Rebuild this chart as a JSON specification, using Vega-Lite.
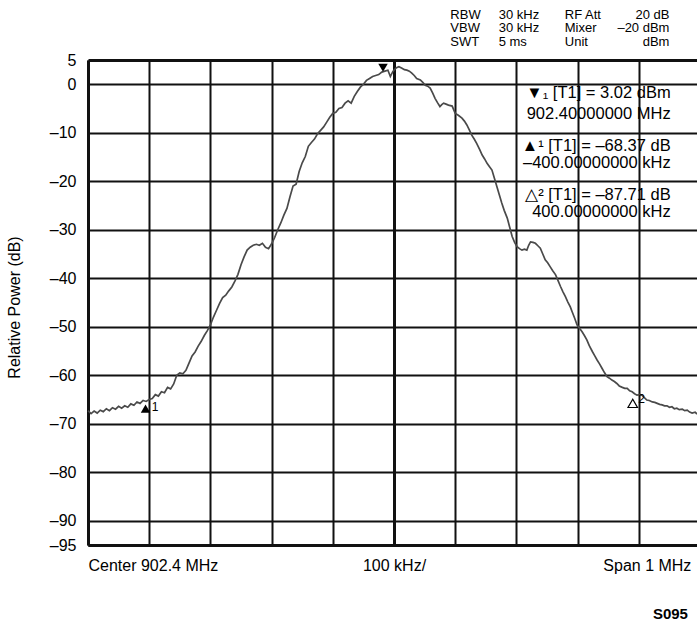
{
  "$schema": "https://vega.github.io/schema/vega-lite/v6.json",
  "width": 609,
  "height": 485,
  "autosize": {"type": "none"},
  "padding": {"left": 88, "top": 60, "right": 0, "bottom": 79},
  "background": "white",
  "config": {
    "view": {"stroke": null},
    "font": "Liberation Sans",
    "text": {"font": "Liberation Sans", "color": "#000"}
  },
  "datasets": {
    "trace": [
      {"f": -500, "db": -67.3}, {"f": -495, "db": -67.9}, {"f": -490, "db": -67.4}, {"f": -485, "db": -67.8},
      {"f": -480, "db": -67.2}, {"f": -475, "db": -67.5}, {"f": -470, "db": -66.9}, {"f": -465, "db": -67.3},
      {"f": -460, "db": -66.7}, {"f": -455, "db": -67.0}, {"f": -450, "db": -66.4}, {"f": -445, "db": -66.8},
      {"f": -440, "db": -66.3}, {"f": -435, "db": -66.6}, {"f": -430, "db": -65.9}, {"f": -425, "db": -66.2},
      {"f": -420, "db": -65.5}, {"f": -415, "db": -65.8}, {"f": -410, "db": -65.2}, {"f": -405, "db": -65.4},
      {"f": -400, "db": -65.0}, {"f": -395, "db": -64.8}, {"f": -390, "db": -64.0}, {"f": -385, "db": -64.3},
      {"f": -380, "db": -63.4}, {"f": -375, "db": -63.6}, {"f": -370, "db": -62.5}, {"f": -365, "db": -62.8},
      {"f": -360, "db": -61.8}, {"f": -355, "db": -60.0}, {"f": -350, "db": -59.5}, {"f": -345, "db": -59.7},
      {"f": -340, "db": -59.0}, {"f": -335, "db": -57.5}, {"f": -330, "db": -56.0}, {"f": -325, "db": -55.2},
      {"f": -320, "db": -54.0}, {"f": -315, "db": -53.0}, {"f": -310, "db": -51.8}, {"f": -305, "db": -50.8},
      {"f": -300, "db": -49.6}, {"f": -295, "db": -48.0}, {"f": -290, "db": -46.6}, {"f": -285, "db": -45.2},
      {"f": -280, "db": -44.0}, {"f": -275, "db": -43.5}, {"f": -270, "db": -42.6}, {"f": -265, "db": -41.8},
      {"f": -260, "db": -40.6}, {"f": -255, "db": -39.2}, {"f": -250, "db": -37.2}, {"f": -245, "db": -35.6},
      {"f": -240, "db": -34.2}, {"f": -235, "db": -33.6}, {"f": -230, "db": -33.2}, {"f": -225, "db": -33.0},
      {"f": -220, "db": -33.2}, {"f": -215, "db": -32.8}, {"f": -210, "db": -33.6}, {"f": -205, "db": -33.9},
      {"f": -200, "db": -32.9}, {"f": -195, "db": -31.6}, {"f": -190, "db": -30.0}, {"f": -185, "db": -28.6},
      {"f": -180, "db": -27.0}, {"f": -175, "db": -25.6}, {"f": -170, "db": -23.2}, {"f": -165, "db": -21.0},
      {"f": -160, "db": -20.6}, {"f": -155, "db": -18.0}, {"f": -150, "db": -16.2}, {"f": -145, "db": -14.9},
      {"f": -140, "db": -12.8}, {"f": -135, "db": -12.0}, {"f": -130, "db": -11.3}, {"f": -125, "db": -10.2},
      {"f": -120, "db": -9.5}, {"f": -115, "db": -8.8}, {"f": -110, "db": -7.8}, {"f": -105, "db": -6.8},
      {"f": -100, "db": -6.0}, {"f": -95, "db": -5.8}, {"f": -90, "db": -5.0}, {"f": -85, "db": -4.8},
      {"f": -80, "db": -3.9}, {"f": -75, "db": -3.4}, {"f": -70, "db": -3.9}, {"f": -65, "db": -2.5},
      {"f": -60, "db": -1.5}, {"f": -55, "db": -0.6}, {"f": -50, "db": 0.0}, {"f": -45, "db": 0.8},
      {"f": -40, "db": 1.2}, {"f": -35, "db": 1.6}, {"f": -30, "db": 1.8}, {"f": -25, "db": 2.0},
      {"f": -20, "db": 2.5}, {"f": -15, "db": 2.7}, {"f": -10, "db": 2.9}, {"f": -6, "db": 1.6},
      {"f": -2, "db": 2.6}, {"f": 0, "db": 2.9}, {"f": 4, "db": 3.4}, {"f": 8, "db": 3.6},
      {"f": 13, "db": 3.3}, {"f": 17, "db": 3.0}, {"f": 21, "db": 2.9}, {"f": 25, "db": 2.7},
      {"f": 29, "db": 2.3}, {"f": 33, "db": 1.8}, {"f": 37, "db": 1.2}, {"f": 43, "db": 0.9},
      {"f": 47, "db": 0.4}, {"f": 51, "db": -0.2}, {"f": 55, "db": -0.4}, {"f": 59, "db": -0.8},
      {"f": 63, "db": -1.8}, {"f": 67, "db": -2.9}, {"f": 71, "db": -3.8}, {"f": 75, "db": -4.6},
      {"f": 78, "db": -4.2}, {"f": 81, "db": -3.9}, {"f": 85, "db": -4.1}, {"f": 89, "db": -4.3},
      {"f": 95, "db": -4.5}, {"f": 100, "db": -6.0}, {"f": 105, "db": -6.4}, {"f": 111, "db": -7.0},
      {"f": 115, "db": -7.6}, {"f": 119, "db": -8.4}, {"f": 123, "db": -9.4}, {"f": 127, "db": -10.5},
      {"f": 131, "db": -11.3}, {"f": 135, "db": -12.2}, {"f": 140, "db": -13.5}, {"f": 144, "db": -14.6},
      {"f": 148, "db": -15.4}, {"f": 152, "db": -16.3}, {"f": 156, "db": -17.0}, {"f": 160, "db": -17.7},
      {"f": 164, "db": -19.4}, {"f": 168, "db": -21.1}, {"f": 172, "db": -22.8}, {"f": 176, "db": -24.5},
      {"f": 180, "db": -26.0}, {"f": 185, "db": -27.6}, {"f": 189, "db": -29.5}, {"f": 193, "db": -31.4},
      {"f": 197, "db": -32.6}, {"f": 201, "db": -33.5}, {"f": 205, "db": -33.9}, {"f": 209, "db": -34.2},
      {"f": 213, "db": -34.0}, {"f": 217, "db": -34.2}, {"f": 220, "db": -33.2}, {"f": 223, "db": -32.5},
      {"f": 227, "db": -32.6}, {"f": 231, "db": -32.8}, {"f": 235, "db": -33.3}, {"f": 239, "db": -33.8},
      {"f": 243, "db": -35.0}, {"f": 247, "db": -36.2}, {"f": 251, "db": -36.8}, {"f": 255, "db": -37.6},
      {"f": 259, "db": -38.4}, {"f": 264, "db": -39.3}, {"f": 268, "db": -40.5}, {"f": 272, "db": -41.7},
      {"f": 276, "db": -42.8}, {"f": 280, "db": -43.8}, {"f": 284, "db": -44.9}, {"f": 288, "db": -45.9},
      {"f": 291, "db": -46.9}, {"f": 295, "db": -48.2}, {"f": 299, "db": -49.6}, {"f": 303, "db": -50.3},
      {"f": 307, "db": -51.0}, {"f": 311, "db": -51.8}, {"f": 315, "db": -52.7}, {"f": 319, "db": -53.9},
      {"f": 324, "db": -55.1}, {"f": 328, "db": -56.0}, {"f": 332, "db": -56.9}, {"f": 336, "db": -57.7},
      {"f": 340, "db": -58.6}, {"f": 344, "db": -59.5}, {"f": 348, "db": -60.3}, {"f": 352, "db": -60.6},
      {"f": 356, "db": -61.0}, {"f": 360, "db": -61.3}, {"f": 364, "db": -61.7}, {"f": 368, "db": -62.2},
      {"f": 373, "db": -62.5}, {"f": 377, "db": -62.7}, {"f": 381, "db": -62.7}, {"f": 385, "db": -63.2},
      {"f": 389, "db": -63.4}, {"f": 393, "db": -63.8}, {"f": 397, "db": -64.1}, {"f": 401, "db": -64.0},
      {"f": 405, "db": -64.1}, {"f": 409, "db": -64.6}, {"f": 413, "db": -65.1}, {"f": 417, "db": -65.2},
      {"f": 422, "db": -65.5}, {"f": 426, "db": -65.6}, {"f": 430, "db": -65.8}, {"f": 434, "db": -66.0},
      {"f": 438, "db": -66.1}, {"f": 442, "db": -66.3}, {"f": 446, "db": -66.3}, {"f": 450, "db": -66.6},
      {"f": 454, "db": -66.5}, {"f": 458, "db": -66.9}, {"f": 462, "db": -66.8}, {"f": 466, "db": -67.1},
      {"f": 471, "db": -67.0}, {"f": 475, "db": -67.3}, {"f": 479, "db": -67.2}, {"f": 483, "db": -67.6},
      {"f": 487, "db": -67.8}, {"f": 492, "db": -67.6}, {"f": 495, "db": -68.0}
    ],
    "markers": [
      {"kind": "peak", "f": -18, "db": 3.4},
      {"kind": "m1", "f": -406, "db": -66.9},
      {"kind": "m2", "f": 390, "db": -65.8}
    ],
    "markerNums": [
      {"t": "1", "f": -396, "db": -67.3},
      {"t": "2", "f": 399, "db": -65.7}
    ],
    "headerLeft": [
      {"t": "RBW", "f": 92, "db": 13.5},
      {"t": "VBW", "f": 92, "db": 10.7},
      {"t": "SWT", "f": 92, "db": 7.9},
      {"t": "30 kHz", "f": 171, "db": 13.5},
      {"t": "30 kHz", "f": 171, "db": 10.7},
      {"t": "5 ms", "f": 171, "db": 7.9},
      {"t": "RF Att", "f": 279, "db": 13.5},
      {"t": "Mixer", "f": 279, "db": 10.7},
      {"t": "Unit", "f": 279, "db": 7.9}
    ],
    "headerRight": [
      {"t": "20 dB", "f": 450, "db": 13.5},
      {"t": "–20 dBm", "f": 450, "db": 10.7},
      {"t": "dBm", "f": 450, "db": 7.9}
    ],
    "readouts": [
      {"t": "▼₁  [T1] = 3.02 dBm", "f": 452, "db": -2.9},
      {"t": "902.40000000 MHz", "f": 452, "db": -7.2},
      {"t": "▲¹  [T1] = –68.37 dB", "f": 452, "db": -13.7},
      {"t": "–400.00000000 kHz", "f": 452, "db": -17.3},
      {"t": "△²  [T1] = –87.71 dB", "f": 452, "db": -23.9},
      {"t": "400.00000000 kHz", "f": 452, "db": -27.3}
    ],
    "code": [
      {"t": "S095", "f": 423, "db": -110.3}
    ]
  },
  "encoding": {
    "x": {
      "field": "f", "type": "quantitative",
      "scale": {"domain": [-500, 495], "nice": false, "zero": false},
      "axis": {
        "values": [-500, -400, -300, -200, -100, 0, 100, 200, 300, 400, 485],
        "title": null,
        "grid": true,
        "gridColor": {"condition": {"test": "datum.value > 450", "value": "transparent"}, "value": "#111"},
        "gridWidth": {"condition": {"test": "datum.value === 0", "value": 3}, "value": 2},
        "gridOpacity": 1,
        "ticks": false,
        "domain": true, "domainColor": "#111", "domainWidth": 3,
        "labelExpr": "datum.value < -450 ? 'Center 902.4 MHz' : datum.value === 0 ? '100 kHz/' : datum.value > 450 ? 'Span 1 MHz' : ''",
        "labelAlign": {"condition": [{"test": "datum.value < -450", "value": "left"}, {"test": "datum.value > 450", "value": "right"}], "value": "center"},
        "labelBaseline": "top",
        "labelPadding": 12,
        "labelFontSize": 16,
        "labelColor": "#000",
        "labelFont": "Liberation Sans",
        "labelOverlap": false,
        "labelBound": false,
        "labelFlush": false
      }
    },
    "y": {
      "field": "db", "type": "quantitative",
      "scale": {"domain": [-95, 5], "nice": false, "zero": false},
      "axis": {
        "values": [5, 0, -10, -20, -30, -40, -50, -60, -70, -80, -90, -95],
        "title": "Relative Power (dB)",
        "grid": true,
        "gridColor": "#111",
        "gridOpacity": 1,
        "gridWidth": {"condition": {"test": "datum.value === 5 || datum.value === -95", "value": 3}, "value": 2},
        "ticks": false,
        "domain": true, "domainColor": "#111", "domainWidth": 3,
        "labelExpr": "(datum.value < 0 ? '–' : '') + abs(datum.value)",
        "labelPadding": 12,
        "labelFontSize": 16,
        "labelColor": "#000",
        "labelFont": "Liberation Sans",
        "labelOverlap": false,
        "labelBound": false,
        "labelFlush": false,
        "titleFont": "Liberation Sans",
        "titleFontSize": 16,
        "titleFontWeight": "normal",
        "titleColor": "#000",
        "titleAngle": -90,
        "titleX": -74,
        "titleY": 247,
        "titleAlign": "center",
        "titleBaseline": "middle"
      }
    }
  },
  "layer": [
    {
      "data": {"name": "trace"},
      "mark": {"type": "line", "color": "#4a4a4a", "strokeWidth": 1.7, "interpolate": "linear"}
    },
    {
      "data": {"name": "markers"},
      "transform": [{"filter": "datum.kind === 'peak'"}],
      "mark": {"type": "point", "shape": "triangle-down", "filled": true, "color": "#000", "size": 90, "opacity": 1}
    },
    {
      "data": {"name": "markers"},
      "transform": [{"filter": "datum.kind === 'm1'"}],
      "mark": {"type": "point", "shape": "triangle-up", "filled": true, "color": "#000", "size": 90, "opacity": 1}
    },
    {
      "data": {"name": "markers"},
      "transform": [{"filter": "datum.kind === 'm2'"}],
      "mark": {"type": "point", "shape": "triangle-up", "filled": false, "color": "#000", "size": 90, "strokeWidth": 1.2, "opacity": 1}
    },
    {
      "data": {"name": "markerNums"},
      "mark": {"type": "text", "align": "left", "baseline": "alphabetic", "fontSize": 12},
      "encoding": {"text": {"field": "t"}}
    },
    {
      "data": {"name": "headerLeft"},
      "mark": {"type": "text", "align": "left", "baseline": "alphabetic", "fontSize": 13},
      "encoding": {"text": {"field": "t"}}
    },
    {
      "data": {"name": "headerRight"},
      "mark": {"type": "text", "align": "right", "baseline": "alphabetic", "fontSize": 13},
      "encoding": {"text": {"field": "t"}}
    },
    {
      "data": {"name": "readouts"},
      "mark": {"type": "text", "align": "right", "baseline": "alphabetic", "fontSize": 16.5},
      "encoding": {"text": {"field": "t"}}
    },
    {
      "data": {"name": "code"},
      "mark": {"type": "text", "align": "left", "baseline": "alphabetic", "fontSize": 15, "fontWeight": "bold"},
      "encoding": {"text": {"field": "t"}}
    }
  ]
}
